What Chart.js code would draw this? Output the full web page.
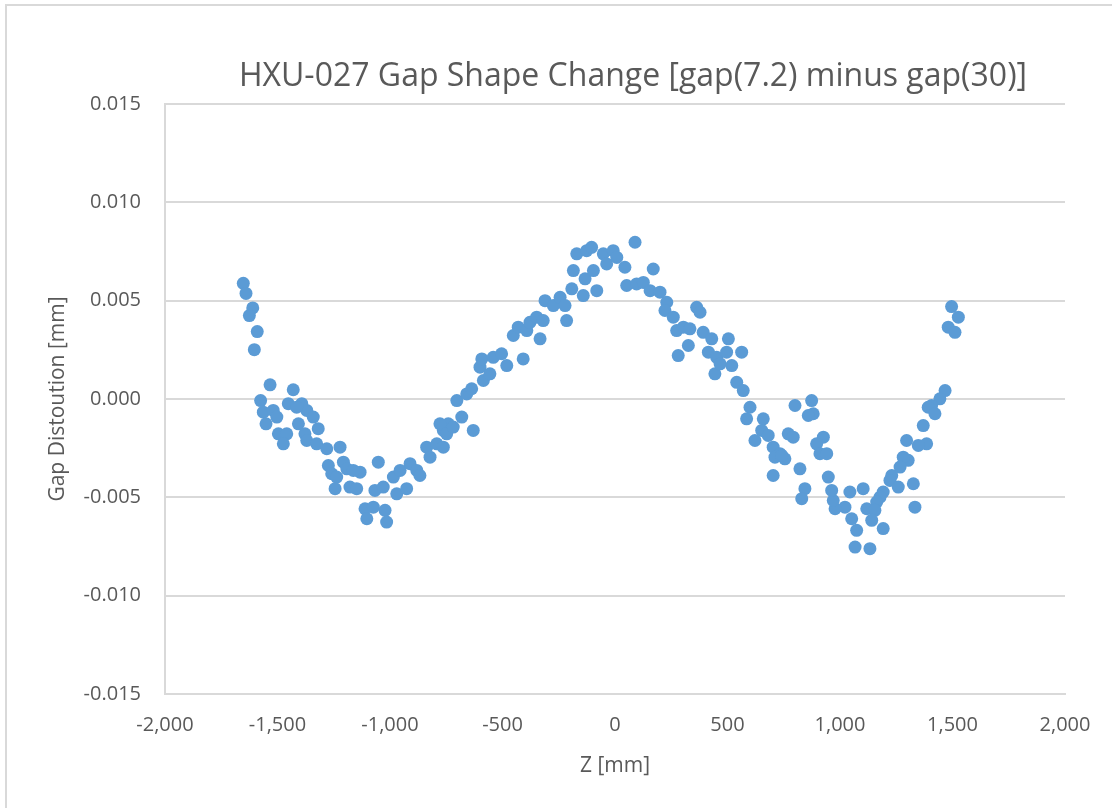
<!DOCTYPE html>
<html>
<head>
<meta charset="utf-8">
<script src="https://cdn.jsdelivr.net/npm/chart.js@4.4.0/dist/chart.umd.min.js"></script>
<style>
    html, body { margin: 0; padding: 0; background: #ffffff; }
    #wrap { position: relative; width: 1112px; height: 808px; overflow: hidden; }
    #frame { position: absolute; left: 5px; top: 4px; width: 1200px; height: 900px; border: 2px solid #d9d9d9; box-sizing: border-box; }
    #gapChart { position: absolute; left: 0; top: 0; }
</style>
</head>
<body>
<div id="wrap">
    <div id="frame"></div>
    <canvas id="gapChart" width="1112" height="808"></canvas>
</div>
<script>
// chart text
var chartTitle = 'HXU-027 Gap Shape Change [gap(7.2) minus gap(30)]';
var xTitle = 'Z [mm]';
var yTitle = 'Gap Distoution [mm]';

// axis ranges / ticks
var xTicks = [-2000, -1500, -1000, -500, 0, 500, 1000, 1500, 2000];
var yTicks = [-0.015, -0.010, -0.005, 0.000, 0.005, 0.010, 0.015];

// measured points, Z position [mm]
var zValues = [
    -1652, -1640, -1610, -1625, -1590, -1603, -1533, -1575, -1430, -1563,
    -1519, -1551, -1503, -1452, -1392, -1370, -1341, -1415, -1496, -1459,
    -1474, -1407, -1319, -1378, -1370, -1326, -1281, -1222, -1274, -1259,
    -1207, -1192, -1237, -1244, -1178, -1148, -1133, -1163, -1052, -1111,
    -1074, -1103, -1022, -1015, -1067, -1030, -985, -970, -926, -955,
    -911, -881, -867, -837, -822, -792, -763, -741, -778, -748,
    -719, -763, -681, -630, -703, -659, -637, -585, -600, -556,
    -592, -541, -504, -481, -408, -452, -430, -392, -378, -348,
    -333, -319, -311, -274, -244, -222, -215, -192, -185, -170,
    -141, -133, -126, -104, -96, -81, -52, -37, -8, 8,
    44, 52, 89, 96, 126, 170, 156, 200, 230, 222,
    259, 274, 304, 333, 326, 281, 363, 378, 392, 430,
    415, 504, 452, 444, 467, 519, 496, 563, 541, 570,
    600, 585, 659, 652, 681, 622, 703, 733, 711, 755,
    703, 800, 770, 792, 822, 1496, 1526, 1481, 1511, 1467,
    1444, 1407, 1392, 1422, 1370, 1385, 1348, 1296, 1303, 1281,
    1267, 1230, 1222, 1259, 1326, 1333, 1192, 1178, 1163, 1119,
    1155, 1141, 1192, 1133, 1067, 1074, 1052, 1103, 1044, 1022,
    978, 970, 963, 948, 926, 896, 911, 941, 874, 881,
    859, 741, 844, 830
];

// gap distortion [mm] at each Z
var gapValues = [
    0.00588, 0.00537, 0.00463, 0.00424, 0.00343, 0.00251, 0.00072, -0.00008, 0.00047, -0.00067,
    -0.00058, -0.00126, -0.00092, -0.00024, -0.00024, -0.00058, -0.00092, -0.00042, -0.00177, -0.00177,
    -0.00228, -0.00126, -0.00151, -0.00177, -0.00211, -0.00228, -0.00253, -0.00245, -0.00338, -0.00380,
    -0.00321, -0.00355, -0.00397, -0.00456, -0.00448, -0.00456, -0.00372, -0.00363, -0.00321, -0.00558,
    -0.00550, -0.00609, -0.00566, -0.00626, -0.00465, -0.00448, -0.00397, -0.00482, -0.00456, -0.00363,
    -0.00329, -0.00363, -0.00389, -0.00245, -0.00296, -0.00228, -0.00160, -0.00126, -0.00126, -0.00177,
    -0.00143, -0.00245, -0.00092, -0.00160, -0.00008, 0.00026, 0.00052, 0.00094, 0.00162, 0.00128,
    0.00204, 0.00212, 0.00230, 0.00170, 0.00204, 0.00323, 0.00365, 0.00348, 0.00390, 0.00416,
    0.00306, 0.00399, 0.00500, 0.00475, 0.00517, 0.00475, 0.00399, 0.00560, 0.00653, 0.00738,
    0.00526, 0.00611, 0.00754, 0.00771, 0.00653, 0.00551, 0.00738, 0.00687, 0.00754, 0.00720,
    0.00670, 0.00577, 0.00797, 0.00585, 0.00593, 0.00661, 0.00551, 0.00543, 0.00492, 0.00450,
    0.00416, 0.00348, 0.00365, 0.00357, 0.00272, 0.00221, 0.00466, 0.00441, 0.00339, 0.00306,
    0.00238, 0.00306, 0.00212, 0.00128, 0.00179, 0.00170, 0.00238, 0.00238, 0.00085, 0.00043,
    -0.00042, -0.00101, -0.00101, -0.00160, -0.00185, -0.00211, -0.00245, -0.00278, -0.00296, -0.00304,
    -0.00389, -0.00033, -0.00177, -0.00194, -0.00355, 0.00470, 0.00416, 0.00365, 0.00339, 0.00043,
    0.00001, -0.00033, -0.00042, -0.00075, -0.00135, -0.00228, -0.00236, -0.00211, -0.00312, -0.00296,
    -0.00346, -0.00389, -0.00414, -0.00448, -0.00431, -0.00550, -0.00473, -0.00499, -0.00524, -0.00558,
    -0.00566, -0.00617, -0.00659, -0.00761, -0.00753, -0.00668, -0.00609, -0.00456, -0.00473, -0.00550,
    -0.00558, -0.00516, -0.00465, -0.00397, -0.00194, -0.00228, -0.00278, -0.00278, -0.00008, -0.00075,
    -0.00084, -0.00287, -0.00456, -0.00507
];

var pointData = zValues.map(function (z, i) {
    return { x: z, y: gapValues[i] };
});

var textColor = '#595959';
var gridColor = '#d9d9d9';
var fontFamily = '"Open Sans", "Noto Sans", sans-serif';

// title drawn at the same spot as the excel chart title
var titlePlugin = {
    id: 'excelTitle',
    afterDraw: function (chart) {
        var ctx = chart.ctx;
        ctx.save();
        ctx.fillStyle = textColor;
        ctx.font = '32px ' + fontFamily;
        ctx.textAlign = 'center';
        ctx.textBaseline = 'middle';
        ctx.fillText(chartTitle, 633, 77);
        ctx.restore();
    }
};

var ctx = document.getElementById('gapChart');

new Chart(ctx, {
    type: 'scatter',
    data: {
        datasets: [{
            label: 'gap',
            data: pointData,
            backgroundColor: '#5b9bd5',
            borderColor: '#5b9bd5',
            borderWidth: 0,
            pointRadius: 6.5,
            pointHoverRadius: 6.5
        }]
    },
    options: {
        responsive: false,
        animation: false,
        events: [],
        layout: {
            padding: { top: 104, right: 47, bottom: 0, left: 0 }
        },
        plugins: {
            legend: { display: false },
            tooltip: { enabled: false },
            title: { display: false }
        },
        scales: {
            x: {
                type: 'linear',
                min: -2000,
                max: 2000,
                afterFit: function (scale) { scale.height = 114; },
                afterBuildTicks: function (scale) {
                    scale.ticks = xTicks.map(function (v) { return { value: v }; });
                },
                grid: { display: false, drawTicks: false },
                border: { display: true, color: gridColor, width: 2 },
                ticks: {
                    color: textColor,
                    padding: 19,
                    maxRotation: 0,
                    font: { family: fontFamily, size: 20 },
                    callback: function (v) { return v.toLocaleString('en-US'); }
                },
                title: {
                    display: true,
                    text: xTitle,
                    color: textColor,
                    font: { family: fontFamily, size: 21 },
                    padding: { top: 0, bottom: 29 }
                }
            },
            y: {
                type: 'linear',
                min: -0.015,
                max: 0.015,
                afterFit: function (scale) { scale.width = 165; },
                afterBuildTicks: function (scale) {
                    scale.ticks = yTicks.map(function (v) { return { value: v }; });
                },
                grid: { color: gridColor, lineWidth: 2, drawTicks: false },
                border: { display: true, color: gridColor, width: 2 },
                ticks: {
                    color: textColor,
                    padding: 24,
                    font: { family: fontFamily, size: 20 },
                    callback: function (v) { return v.toFixed(3); }
                },
                title: {
                    display: true,
                    text: yTitle,
                    color: textColor,
                    font: { family: fontFamily, size: 21 },
                    padding: { top: 45, bottom: 0 }
                }
            }
        }
    },
    plugins: [titlePlugin]
});
</script>
</body>
</html>
